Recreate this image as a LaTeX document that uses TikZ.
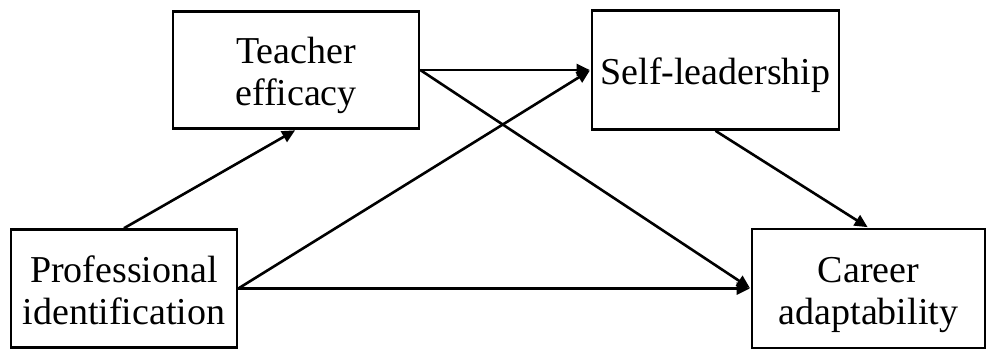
\documentclass[tikz,border=0pt]{standalone}
\usepackage{fontspec}
\setmainfont{Liberation Serif}
\usetikzlibrary{arrows.meta}
\newcommand{\boxtext}[1]{\raisebox{-7.5pt}[0pt][0pt]{\begin{tabular}{@{}c@{}}#1\end{tabular}}}

\begin{document}
\begin{tikzpicture}
  [x=0.5pt, y=-0.5pt, >={Triangle[length=6.5pt, width=6pt]},
   var/.style={rectangle, draw=black, line width=1.3pt,
     font=\fontsize{19}{21}\selectfont, inner sep=0pt},
   path/.style={->, line width=1.3pt, shorten >=0.5pt}]
  \useasboundingbox (0, 0) rectangle (986, 349);
  \node (te) at (296, 70) [var, minimum width=123pt, minimum height=58.5pt] {\boxtext{Teacher\\efficacy}};
  \node (sl) at (715.5, 70) [var, minimum width=123.5pt, minimum height=59.5pt] {\boxtext{Self-leadership}};
  \node (pi) at (124, 288.5) [var, minimum width=113pt, minimum height=59pt] {\boxtext{Professional\\identification}};
  \node (ca) at (868.5, 288.5) [var, minimum width=116.5pt, minimum height=59.5pt] {\boxtext{Career\\adaptability}};
  \draw [path] (pi.north) to (te.south);
  \draw [path] (te.east) to (sl.west);
  \draw [path] (pi.east) to (sl.west);
  \draw [path] (te.east) to (ca.west);
  \draw [path] (pi.east) to (ca.west);
  \draw [path] (sl.south) to (ca.north);
\end{tikzpicture}
\end{document}
